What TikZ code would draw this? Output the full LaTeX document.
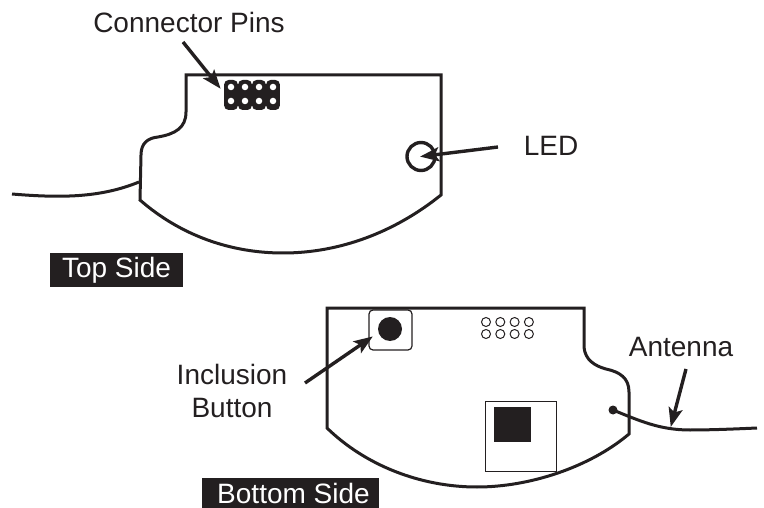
\documentclass[tikz,border=0pt]{standalone}
\usepackage{fontspec}
\setmainfont{Liberation Sans}
\usetikzlibrary{arrows.meta}
\definecolor{ink}{HTML}{231F20}
\tikzstyle{board} = [ink, line width=3pt, line join=miter]
\tikzstyle{wire} = [ink, line width=3pt]
\tikzstyle{arrow} = [ink, line width=3.4pt, -{Stealth[length=19pt,width=14pt,inset=4pt]}, shorten >=-1pt]
\tikzstyle{caption} = [ink, font=\fontsize{28}{33}\selectfont, align=center, inner sep=0pt]
\tikzstyle{tag} = [fill=ink, text=white, font=\fontsize{28}{32}\selectfont, inner sep=0pt]
\tikzstyle{pinbar} = [fill=ink, rounded corners=4.5pt, minimum width=13.8pt, minimum height=30pt, inner sep=0pt]
\tikzstyle{hole} = [circle, fill=white, minimum size=6.5pt, inner sep=0pt]
\tikzstyle{pad} = [circle, draw=ink, line width=1pt, fill=white, minimum size=9pt, inner sep=0pt]

\begin{document}
\begin{tikzpicture}[x=1pt, y=-1pt]
    \useasboundingbox (0,0) rectangle (764,508);

    % Top side
    \draw [board] (186,75) -- (441,75) -- (441,195)
        .. controls (395,232) and (340,253) .. (283,253)
        .. controls (230,253) and (180,235) .. (140,200)
        -- (141,155) .. controls (141,143) and (148,138) .. (158,137)
        .. controls (175,134) and (186,128) .. (186,112) -- cycle;
    \coordinate (topjoin) at (139,182);
    \coordinate (topend) at (12,194);
    \draw [wire] (topend) .. controls (60,198) and (100,198) .. (topjoin);

    \foreach \i in {0,1,2,3} {
        \node (bar\i) [pinbar] at (231+14*\i,95) {};
        \node (holeA\i) [hole] at (231+14*\i,87) {};
        \node (holeB\i) [hole] at (231+14*\i,101) {};
    }
    \node (led) [circle, draw=ink, line width=3.4pt, minimum size=28pt, inner sep=0pt] at (421,156.5) {};

    % Top labels
    \node (pinslabel) [caption, anchor=base] at (189,33) {Connector Pins};
    \node (ledlabel) [caption, anchor=base] at (551,156) {LED};
    \node (toptag) [tag, minimum width=133pt, minimum height=34pt] at (116.5,270) {Top Side};
    \coordinate (pinstail) at (183,42);
    \coordinate (pinstip) at (220,88);
    \coordinate (ledtail) at (498,147);
    \draw [arrow] (pinstail) -- (pinstip);
    \draw [arrow] (ledtail) -- (led.center);

    % Bottom side
    \draw [board] (327,308) -- (584,308) -- (584,347)
        .. controls (585,360) and (595,366) .. (606,369)
        .. controls (620,372) and (629,378) .. (629,392)
        -- (629,434)
        .. controls (590,467) and (530,487) .. (477,487)
        .. controls (420,487) and (365,465) .. (327,428) -- cycle;

    \node (btnbox) [draw=ink, line width=1.2pt, rounded corners=4pt, minimum width=43pt, minimum height=40pt, inner sep=0pt] at (390.5,330) {};
    \node (btn) [circle, fill=ink, minimum size=24pt, inner sep=0pt] at (390,329) {};
    \foreach \i in {0,1,2,3} {
        \node (padA\i) [pad] at (486+14.3*\i,322) {};
        \node (padB\i) [pad] at (486+14.3*\i,334) {};
    }
    \node (chipbox) [draw=ink, line width=1pt, minimum width=71pt, minimum height=70pt, inner sep=0pt] at (520.5,436) {};
    \node (chip) [fill=ink, minimum width=37pt, minimum height=35pt, inner sep=0pt] at (512.5,424.5) {};

    \node (antstart) [circle, fill=ink, minimum size=9pt, inner sep=0pt] at (613,410) {};
    \coordinate (antend) at (757,428);
    \coordinate (antmid) at (671,426);
    \draw [wire] (antstart.center) .. controls (640,421) and (660,430) .. (690,430) .. controls (710,430) and (735,429) .. (antend);

    % Bottom labels
    \node (inclabel) [caption] at (232,391) {Inclusion\\Button};
    \node (antlabel) [caption, anchor=base] at (681,356) {Antenna};
    \node (bottag) [tag, minimum width=177pt, minimum height=30pt] at (290.5,493) {\hspace*{6pt}Bottom Side};
    \coordinate (inctail) at (305,383);
    \coordinate (inctip) at (372,337);
    \coordinate (anttail) at (686,369);
    \draw [arrow] (inctail) -- (inctip);
    \draw [arrow] (anttail) -- (antmid);
\end{tikzpicture}
\end{document}
